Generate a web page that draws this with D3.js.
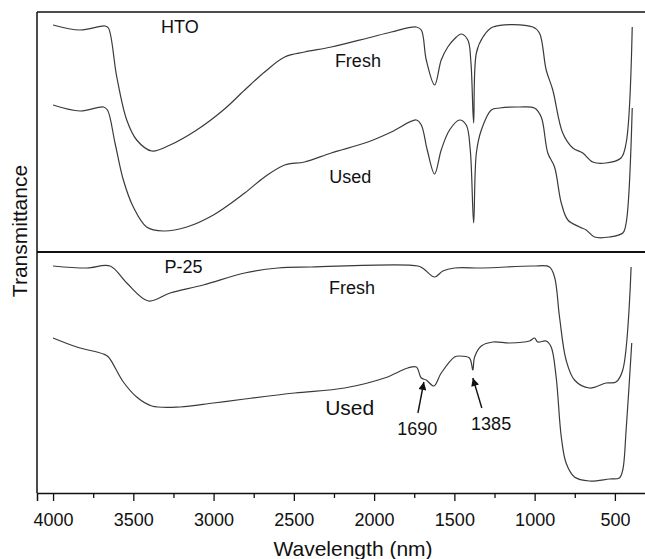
<!DOCTYPE html>
<html><head><meta charset="utf-8">
<script src="https://cdn.jsdelivr.net/npm/d3@7"></script>
<style>body{margin:0;background:#fff}svg{display:block}text{font-family:"Liberation Sans",Arial,sans-serif}</style>
</head><body>
<svg id="c" width="645" height="559"></svg>
<script>
// [wavelength, relative transmittance (a.u.)]
const htoFresh = [[4000,227],[3832,222],[3676,226],[3655,224],[3603,175],[3541,132],[3479,112],[3385,101],[3271,107],[3105,122],[2939,142],[2806,162],[2682,180],[2557,195],[2433,200],[2267,205],[2039,214],[1893,220],[1737,225],[1706,222],[1675,192],[1623,167],[1582,192],[1541,205],[1500,213],[1457,218],[1416,212],[1397,190],[1380,129],[1363,199],[1322,215],[1260,225],[1011,225],[970,219],[928,182],[887,162],[825,119],[762,104],[700,99],[638,90],[555,89],[462,94],[430,109],[392,225]];
const htoUsed = [[4000,147],[3832,141],[3686,145],[3661,142],[3614,109],[3562,72],[3500,45],[3417,25],[3313,21],[3167,25],[3001,37],[2806,59],[2682,75],[2557,87],[2433,90],[2267,99],[2039,110],[1893,120],[1737,132],[1706,127],[1669,102],[1623,78],[1582,102],[1530,122],[1468,132],[1426,127],[1401,102],[1380,29],[1363,99],[1332,122],[1270,142],[1218,144],[1094,145],[1001,144],[959,135],[918,99],[876,85],[834,49],[793,32],[720,25],[679,22],[627,15],[534,15],[451,19],[430,29],[392,144]];
const p25Fresh = [[4000,227],[3790,225],[3645,227],[3541,210],[3406,192],[3271,200],[3064,208],[2806,220],[2599,225],[2391,226],[1727,227],[1690,224],[1623,216],[1572,222],[1499,225],[1322,225],[1011,227],[908,226],[876,216],[845,176],[804,133],[752,113],[659,105],[555,110],[493,111],[451,123],[399,226]];
const p25Used = [[4000,155],[3852,146],[3686,139],[3655,136],[3562,111],[3479,96],[3385,87],[3209,86],[3001,90],[2806,94],[2495,100],[2184,105],[1935,115],[1790,125],[1737,126],[1706,115],[1675,113],[1628,107],[1582,120],[1499,136],[1468,137],[1406,135],[1385,123],[1374,136],[1332,147],[1260,151],[1156,150],[1032,152],[1001,155],[981,151],[928,152],[897,146],[866,116],[834,56],[804,30],[752,16],[659,12],[534,14],[472,15],[451,23],[430,63],[395,150]];
const majorTicks = [4000,3500,3000,2500,2000,1500,1000,500];
const minorTicks = [3750,3250,2750,2250,1750,1250,750];
const panelLabels = [{panel:"top",text:"HTO",w:3210,v:219,size:18},{panel:"top",text:"Fresh",w:2101,v:185,size:18},{panel:"top",text:"Used",w:2148,v:69,size:18},{panel:"bottom",text:"P-25",w:3188,v:220,size:18},{panel:"bottom",text:"Fresh",w:2138,v:199,size:18},{panel:"bottom",text:"Used",w:2152,v:78,size:21}];
const arrows = [{label:"1690",head:[1690,111],tail:[1727,80],text:[1731,58]},{label:"1385",head:[1385,115],tail:[1329,85],text:[1271,63]}];

const svg = d3.select("#c");
const L = 37, R = 647, T = 12, M = 252, B = 493;
const x = d3.scaleLinear().domain([4100,300]).range([L,R]);
const yTop = d3.scaleLinear().domain([0,240]).range([M,T]);
const yBot = d3.scaleLinear().domain([0,241]).range([B,M]);

const defs = svg.append("defs");
defs.append("marker").attr("id","ah").attr("viewBox","0 0 10 10").attr("refX",10).attr("refY",5)
  .attr("markerWidth",10).attr("markerHeight",8).attr("markerUnits","userSpaceOnUse").attr("orient","auto")
  .append("path").attr("d","M0,0L10,5L0,10z").attr("fill","#111");

const clip = defs.append("clipPath").attr("id","clip");
clip.append("rect").attr("x",L).attr("y",T).attr("width",R-L).attr("height",B-T);

const lineT = d3.line().x(d=>x(d[0])).y(d=>yTop(d[1])).curve(d3.curveCatmullRom.alpha(0.5));
const lineB = d3.line().x(d=>x(d[0])).y(d=>yBot(d[1])).curve(d3.curveCatmullRom.alpha(0.5));
const g = svg.append("g").attr("clip-path","url(#clip)");
[htoFresh, htoUsed].forEach(s=>g.append("path").attr("d",lineT(s)).attr("fill","none").attr("stroke","#3a3a3a").attr("stroke-width",1.2));
[p25Fresh, p25Used].forEach(s=>g.append("path").attr("d",lineB(s)).attr("fill","none").attr("stroke","#3a3a3a").attr("stroke-width",1.2));

// frame
svg.append("line").attr("x1",L).attr("x2",R).attr("y1",T).attr("y2",T).attr("stroke","#111").attr("stroke-width",1.5);
svg.append("line").attr("x1",L).attr("x2",R).attr("y1",M).attr("y2",M).attr("stroke","#111").attr("stroke-width",1.8);
svg.append("line").attr("x1",L).attr("x2",L).attr("y1",T).attr("y2",B).attr("stroke","#111").attr("stroke-width",1.5);

// axis
const ax = svg.append("g").attr("transform",`translate(0,${B})`)
  .call(d3.axisBottom(x).tickValues(majorTicks).tickSize(8).tickPadding(12).tickFormat(d3.format("d")));
ax.select(".domain").attr("stroke","#111").attr("stroke-width",1.5);
ax.selectAll(".tick line").attr("stroke","#111").attr("stroke-width",1.3);
ax.selectAll(".tick text").attr("font-size",18).attr("font-family","Liberation Sans, Arial, sans-serif").attr("fill","#111");
const axm = svg.append("g").attr("transform",`translate(0,${B})`)
  .call(d3.axisBottom(x).tickValues(minorTicks).tickSize(5).tickFormat(""));
axm.select(".domain").remove();
axm.selectAll(".tick line").attr("stroke","#111").attr("stroke-width",1.3);

svg.append("text").attr("x",(x(4100)+x(300))/2+11).attr("y",556).attr("text-anchor","middle")
  .attr("font-size",21).attr("fill","#111").text("Wavelength (nm)");
svg.append("text").attr("transform","translate(27,231) rotate(-90)").attr("text-anchor","middle")
  .attr("font-size",21).attr("fill","#111").text("Transmittance");

panelLabels.forEach(l=>{
  const y = l.panel==="top" ? yTop : yBot;
  svg.append("text").attr("x",x(l.w)).attr("y",y(l.v)).attr("text-anchor","middle")
    .attr("font-size",l.size).attr("fill","#111").text(l.text);
});

arrows.forEach(a=>{
  svg.append("line").attr("x1",x(a.tail[0])).attr("y1",yBot(a.tail[1])).attr("x2",x(a.head[0])).attr("y2",yBot(a.head[1]))
    .attr("stroke","#111").attr("stroke-width",1.4).attr("marker-end","url(#ah)");
  svg.append("text").attr("x",x(a.text[0])).attr("y",yBot(a.text[1])).attr("text-anchor","middle")
    .attr("font-size",18).attr("fill","#111").text(a.label);
});
</script>
</body></html>
